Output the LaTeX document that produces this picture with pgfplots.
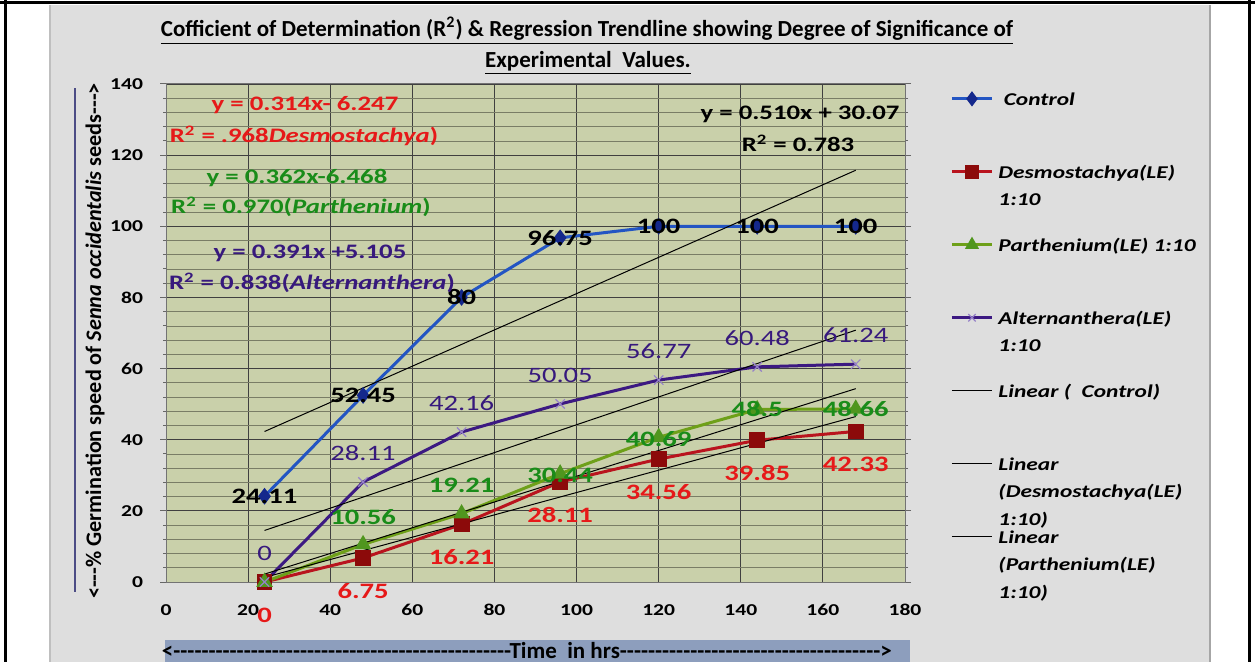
\documentclass[border=0pt]{standalone}
\usepackage{pgfplots}
\pgfplotsset{compat=1.18}
\usepackage{pgfplotstable}
\usepackage{fontspec}
\setmainfont{Carlito}[Ligatures=TeXOff]
\newfontfamily\wide{Carlito}[FakeStretch=1.3, Ligatures=TeXOff]

\definecolor{chartgray}{RGB}{222,222,222}
\definecolor{plotbg}{RGB}{201,208,170}
\definecolor{xlabbox}{RGB}{141,158,189}
\definecolor{ctrlline}{RGB}{35,85,195}
\definecolor{ctrlmark}{RGB}{20,40,140}
\definecolor{desline}{RGB}{185,20,30}
\definecolor{desmark}{RGB}{140,10,10}
\definecolor{deslab}{RGB}{230,25,25}
\definecolor{parline}{RGB}{110,160,25}
\definecolor{parmark}{RGB}{80,150,30}
\definecolor{parlab}{RGB}{25,140,25}
\definecolor{altline}{RGB}{60,25,130}
\definecolor{altmark}{RGB}{150,130,200}
\definecolor{altlab}{RGB}{55,25,125}

% x y label shift(bp)
\pgfplotstableread{
x y lbl dy
24 24.11 24.11 0
48 52.45 52.45 0
72 80 80 0
96 96.75 96.75 0
120 100 100 0
144 100 100 0
168 100 100 0
}\control
\pgfplotstableread{
x y lbl dy
24 0 0 -16.5
48 6.75 6.75 -16.5
72 16.21 16.21 -16.5
96 28.11 28.11 -16.5
120 34.56 34.56 -16.5
144 39.85 39.85 -16.5
168 42.33 42.33 -16.5
}\desmo
\pgfplotstableread{
x y lbl dy
24 0 {} 0
48 10.56 10.56 13.5
72 19.21 19.21 14
96 30.44 30.44 -1
120 40.69 40.69 -1
144 48.5 48.5 0
168 48.66 48.66 0
}\parth
\pgfplotstableread{
x y lbl dy
24 0 0 14.5
48 28.11 28.11 14.5
72 42.16 42.16 14.5
96 50.05 50.05 14.5
120 56.77 56.77 14.5
144 60.48 60.48 14.5
168 61.24 61.24 14.5
}\alter

\newcommand\legtxt[1]{\raisebox{0pt}[8bp][0pt]{\parbox[t]{120bp}{\raggedright #1}}}

\begin{document}
\begin{tikzpicture}
\useasboundingbox (0,0) rectangle (627.5bp,331bp);
\fill[white] (0,0) rectangle (627.5bp,331bp);
\fill[chartgray] (25bp,0) rectangle (605bp,328.5bp);
\draw[black!35, line width=1bp] (605bp,0) -- (605bp,328.5bp);
\draw[black!25, line width=0.6bp] (25bp,0) -- (25bp,328.5bp);
\draw[black, line width=1.5bp] (2.5bp,0) -- (2.5bp,331bp);
\draw[black, line width=1.5bp] (624.5bp,0) -- (624.5bp,331bp);
\draw[black, line width=1.2bp] (0,329.8bp) -- (627.5bp,329.8bp);
\draw[black!45!blue!40!gray, line width=1bp] (37.5bp,35bp) -- (37.5bp,287bp);
\fill[xlabbox] (82.5bp,0) rectangle (455bp,11bp);

\begin{axis}[
  at={(83bp,40bp)}, anchor=south west,
  scale only axis, width=369.5bp, height=249bp,
  xmin=0, xmax=180, ymin=0, ymax=140,
  xtick={0,20,...,180}, ytick={0,20,...,140},
  minor y tick num=4,
  grid=both,
  major grid style={draw=black!75, line width=0.45bp},
  minor grid style={draw=black!40!plotbg, line width=0.35bp},
  axis background/.style={fill=plotbg},
  axis line style={draw=black!55, line width=0.5bp},
  tick align=outside, major tick length=3bp, minor tick length=1.5bp,
  xtick style={draw=none},
  ytick style={draw=black!60, line width=0.5bp},
  tick label style={font=\wide\bfseries\fontsize{8.3bp}{10bp}\selectfont},
  /pgf/number format/assume math mode=true,
  xticklabel style={anchor=center, yshift=-11bp},
  yticklabel style={anchor=east, xshift=-5bp},
  clip=false,
  point meta=explicit symbolic,
  legend cell align=left,
  legend image code/.code={%
    \draw[mark repeat=2, mark phase=2, #1, mark size=2.6bp] plot coordinates {(0bp,0bp) (10bp,0bp) (20bp,0bp)};},
  legend style={
    at={(rel axis cs:1.061,0.99)}, anchor=north west,
    draw=none, fill=none, inner sep=0pt,
    row sep=27bp, column sep=2.5bp,
    nodes={inner sep=0pt},
    font=\wide\bfseries\itshape\fontsize{9bp}{13.75bp}\selectfont},
]
\addplot[ctrlline, line width=1.5bp, mark=diamond*, mark size=3bp,
  mark options={draw=ctrlmark, fill=ctrlmark},
  nodes near coords, visualization depends on={\thisrow{dy} \as \dy},
  every node near coord/.append style={anchor=center, yshift=\dy bp, black,
    font=\wide\bfseries\fontsize{11bp}{12bp}\selectfont}]
  table[x=x, y=y, meta=lbl] {\control};
\addlegendentry{\legtxt{\ Control}}
\addplot[desline, line width=1.5bp, mark=square*, mark size=3.2bp,
  mark options={draw=desmark, fill=desmark},
  nodes near coords, visualization depends on={\thisrow{dy} \as \dy},
  every node near coord/.append style={anchor=center, yshift=\dy bp, deslab,
    font=\wide\bfseries\fontsize{11bp}{12bp}\selectfont}]
  table[x=x, y=y, meta=lbl] {\desmo};
\addlegendentry{\legtxt{Desmostachya(LE)\\1:10}}
\addplot[parline, line width=1.5bp, mark=triangle*, mark size=3.3bp,
  mark options={draw=parmark, fill=parmark},
  nodes near coords, visualization depends on={\thisrow{dy} \as \dy},
  every node near coord/.append style={anchor=center, yshift=\dy bp, parlab,
    font=\wide\bfseries\fontsize{11bp}{12bp}\selectfont}]
  table[x=x, y=y, meta=lbl] {\parth};
\addlegendentry{\legtxt{Parthenium(LE) 1:10}}
\addplot[altline, line width=1.5bp, mark=x, mark size=3.3bp,
  mark options={draw=altmark, line width=0.6bp},
  nodes near coords, visualization depends on={\thisrow{dy} \as \dy},
  every node near coord/.append style={anchor=center, yshift=\dy bp, altlab,
    font=\wide\fontsize{11bp}{12bp}\selectfont}]
  table[x=x, y=y, meta=lbl] {\alter};
\addlegendentry{\legtxt{Alternanthera(LE)\\1:10}}
\addplot[black, line width=0.5bp, no marks] coordinates {(24,42.31) (168,115.75)};
\addlegendentry{\legtxt{Linear ( \ Control)}}
\addplot[black, line width=0.5bp, no marks] coordinates {(24,1.289) (168,46.505)};
\addlegendentry{\legtxt{Linear\\(Desmostachya(LE)\\1:10)}}
\addplot[black, line width=0.5bp, no marks] coordinates {(24,2.22) (168,54.348)};
\addlegendentry{\legtxt{Linear\\(Parthenium(LE)\\1:10)}}
\addplot[black, line width=0.5bp, no marks, forget plot] coordinates {(24,14.489) (168,70.793)};
\end{axis}

\node[font=\bfseries\fontsize{11.5bp}{13bp}\selectfont] at (293.5bp,315.5bp)
  {\underline{Cofficient of Determination (R\textsuperscript{2}) \& Regression Trendline showing Degree of Significance of}};
\node[font=\bfseries\fontsize{11.5bp}{13bp}\selectfont] at (294bp,299.5bp)
  {\underline{Experimental \ Values.}};
\node[rotate=90, font=\bfseries\fontsize{11.1bp}{13bp}\selectfont] at (47.5bp,160.5bp)
  {<---\% Germination speed of \textit{Senna occidentalis} seeds--->};
\node[font=\bfseries\fontsize{11.5bp}{13bp}\selectfont] at (263.5bp,5.5bp)
  {<------------------------------------------------Time \ in hrs------------------------------------->};

\begin{scope}[font=\wide\bfseries\fontsize{10.3bp}{12bp}\selectfont]
\node[deslab] at (152.5bp,278.5bp) {y = 0.314x- 6.247};
\node[deslab] at (152bp,263bp) {R\textsuperscript{2} = .968\textit{Desmostachya})};
\node[parlab] at (148.5bp,242bp) {y = 0.362x-6.468};
\node[parlab] at (150.5bp,227.5bp) {R\textsuperscript{2} = 0.970(\textit{Parthenium})};
\node[altlab] at (155bp,204.5bp) {y = 0.391x +5.105};
\node[altlab] at (156bp,189.5bp) {R\textsuperscript{2} = 0.838(\textit{Alternanthera})};
\node[black] at (400bp,274bp) {y = 0.510x + 30.07};
\node[black] at (399bp,259.5bp) {R\textsuperscript{2} = 0.783};
\end{scope}
\end{tikzpicture}
\end{document}
